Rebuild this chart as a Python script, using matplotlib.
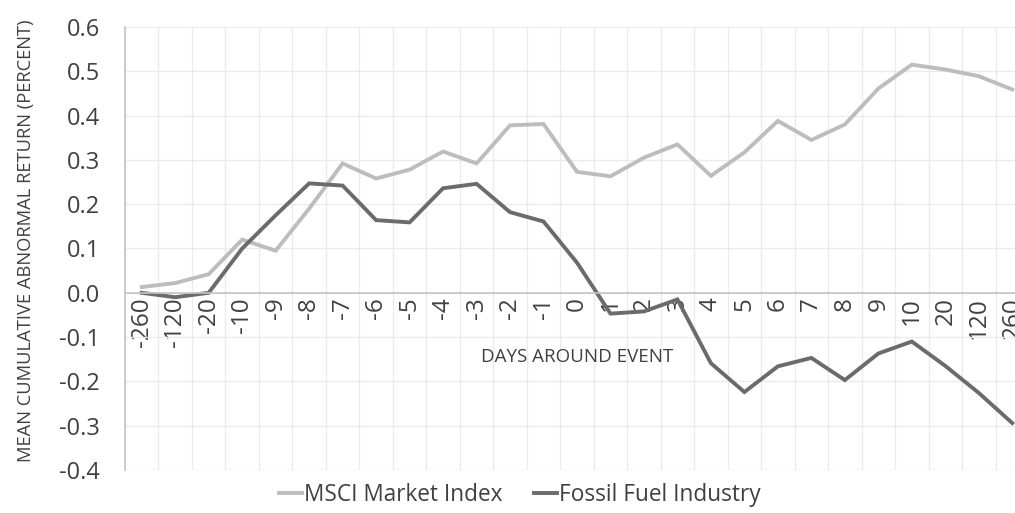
import matplotlib
matplotlib.use("Agg")
import matplotlib.pyplot as plt
import numpy as np

days = ["-260", "-120", "-20", "-10", "-9", "-8", "-7", "-6", "-5", "-4", "-3", "-2", "-1",
        "0", "1", "2", "3", "4", "5", "6", "7", "8", "9", "10", "20", "120", "260"]
msci = [0.013, 0.022, 0.042, 0.120, 0.095, 0.190, 0.292, 0.258, 0.278, 0.319, 0.292, 0.378, 0.381,
        0.273, 0.263, 0.305, 0.335, 0.264, 0.317, 0.388, 0.345, 0.380, 0.461, 0.515, 0.504, 0.489, 0.459]
fossil = [0.000, -0.010, 0.000, 0.100, 0.175, 0.247, 0.242, 0.164, 0.159, 0.236, 0.246, 0.182, 0.161,
          0.068, -0.047, -0.042, -0.015, -0.159, -0.224, -0.166, -0.147, -0.197, -0.137, -0.110, -0.165, -0.226, -0.294]
yticks = [0.6, 0.5, 0.4, 0.3, 0.2, 0.1, 0.0, -0.1, -0.2, -0.3, -0.4]

plt.rcParams['font.family'] = ['Open Sans', 'DejaVu Sans']

fig = plt.figure(figsize=(10.15, 5.13), dpi=100)
ax = fig.add_axes([125/1015, 43/513, 904/1015, 443/513])

x = np.arange(len(days))
ax.plot(x, msci, color="#BDBDBD", lw=2.8, label="MSCI Market Index", solid_joinstyle="miter")
ax.plot(x, fossil, color="#6F6A6A", lw=2.8, label="Fossil Fuel Industry", solid_joinstyle="miter")

ax.set_xlim(-0.5, len(days) - 0.5)
ax.set_ylim(-0.4, 0.6)
ax.set_yticks(yticks)
ax.set_yticklabels([f"{v:.1f}" for v in yticks])
ax.set_xticks(x)
ax.set_xticklabels(days)
ax.set_xticks(np.arange(len(days) + 1) - 0.5, minor=True)

ax.grid(axis="y", which="major", color="#EBEBEB", lw=1)
ax.grid(axis="x", which="minor", color="#EBEBEB", lw=1)
ax.set_axisbelow(True)

for s in ["top", "right"]:
    ax.spines[s].set_visible(False)
ax.spines["bottom"].set_position(("data", 0))
ax.spines["bottom"].set_color("#C4C4C4")
ax.spines["left"].set_color("#C4C4C4")
ax.spines["bottom"].set_linewidth(1.2)
ax.spines["left"].set_linewidth(1.2)

ax.tick_params(axis="both", which="both", length=0, colors="#404040")
ax.tick_params(axis="y", labelsize=17, pad=18)
ax.tick_params(axis="x", which="major", labelsize=17.5, pad=3, labelrotation=90)

ax.set_ylabel("MEAN CUMULATIVE ABNORMAL RETURN (PERCENT)", fontsize=13.2, color="#404040")
ax.yaxis.set_label_coords(-0.1, 0.517)
ax.text(0.5, 0.255, "DAYS AROUND EVENT", transform=ax.transAxes, ha="center", va="center",
        fontsize=13.5, color="#404040")

fig.legend(loc="lower center", bbox_to_anchor=(0.512, -0.028), ncol=2, frameon=False,
           fontsize=16.3, handlelength=1.0, handletextpad=0.1, columnspacing=1.4,
           labelcolor="#404040")

fig.savefig("out.png", dpi=100)
